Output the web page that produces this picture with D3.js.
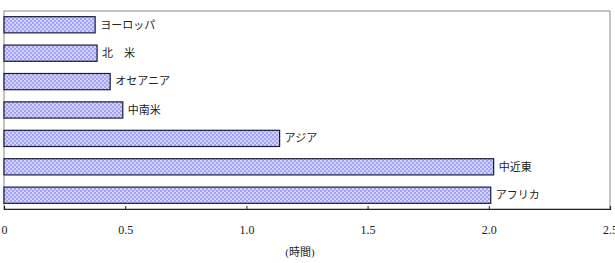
<!DOCTYPE html>
<html>
<head>
<meta charset="utf-8">
<script src="https://cdn.jsdelivr.net/npm/d3@7"></script>
<style>
  body { margin: 0; background: #fff; }
  text { font-family: "Liberation Serif", "Noto Sans CJK JP", serif; fill: #222; }
</style>
</head>
<body>
<div id="chart"></div>
<script>
// regions, top to bottom
var regions = ["ヨーロッパ", "北　米", "オセアニア", "中南米", "アジア", "中近東", "アフリカ"];
var hours = [0.376, 0.384, 0.438, 0.49, 1.137, 2.02, 2.008];
var tickValues = [0, 0.5, 1.0, 1.5, 2.0, 2.5];
var unitLabel = "(時間)";

var width = 615, height = 263;
var margin = {top: 11, right: 5, bottom: 54, left: 4};

var svg = d3.select("#chart").append("svg")
  .attr("width", width)
  .attr("height", height);

// checkered fill like the original
var defs = svg.append("defs");
var pat = defs.append("pattern")
  .attr("id", "check")
  .attr("width", 4)
  .attr("height", 4)
  .attr("patternUnits", "userSpaceOnUse");
pat.append("rect").attr("width", 4).attr("height", 4).attr("fill", "#a2a2f6");
pat.append("rect").attr("width", 2).attr("height", 2).attr("fill", "#d2d2fd");
pat.append("rect").attr("x", 2).attr("y", 2).attr("width", 2).attr("height", 2).attr("fill", "#d2d2fd");

var x = d3.scaleLinear()
  .domain([0, 2.5])
  .range([margin.left, width - margin.right]);

var y = d3.scaleBand()
  .domain(regions)
  .range([margin.top, height - margin.bottom])
  .paddingInner(0.43)
  .paddingOuter(0.2);

// plot frame
svg.append("rect")
  .attr("x", x(0))
  .attr("y", margin.top)
  .attr("width", x(2.5) - x(0))
  .attr("height", height - margin.bottom - margin.top)
  .attr("fill", "none")
  .attr("stroke", "#888")
  .attr("stroke-width", 1);

svg.selectAll(".bar")
  .data(regions)
  .enter().append("rect")
  .attr("class", "bar")
  .attr("x", x(0))
  .attr("y", d => y(d))
  .attr("width", (d, i) => x(hours[i]) - x(0))
  .attr("height", y.bandwidth())
  .attr("fill", "url(#check)")
  .attr("stroke", "#1c1c3a")
  .attr("stroke-width", 1.2);

svg.selectAll(".lbl")
  .data(regions)
  .enter().append("text")
  .attr("class", "lbl")
  .attr("x", (d, i) => x(hours[i]) + 5)
  .attr("y", d => y(d) + y.bandwidth() / 2)
  .attr("dy", "0.35em")
  .attr("font-size", 11)
  .text(d => d);

// x axis
var axisY = height - margin.bottom;
var axis = svg.append("g")
  .attr("transform", "translate(0," + axisY + ")")
  .call(d3.axisBottom(x).tickValues(tickValues).tickSize(-3).tickPadding(16)
    .tickFormat(d => d === 0 ? "0" : d3.format(".1f")(d)));
axis.select(".domain").attr("stroke", "#222").attr("stroke-width", 1.2);
axis.selectAll(".tick line").attr("stroke", "#222");
axis.selectAll(".tick text").attr("font-size", 12).attr("font-family", "'Liberation Serif', serif").attr("fill", "#222");

svg.append("text")
  .attr("x", 300)
  .attr("y", 252)
  .attr("text-anchor", "middle")
  .attr("dy", "0.35em")
  .attr("font-size", 11)
  .text(unitLabel);
</script>
</body>
</html>
